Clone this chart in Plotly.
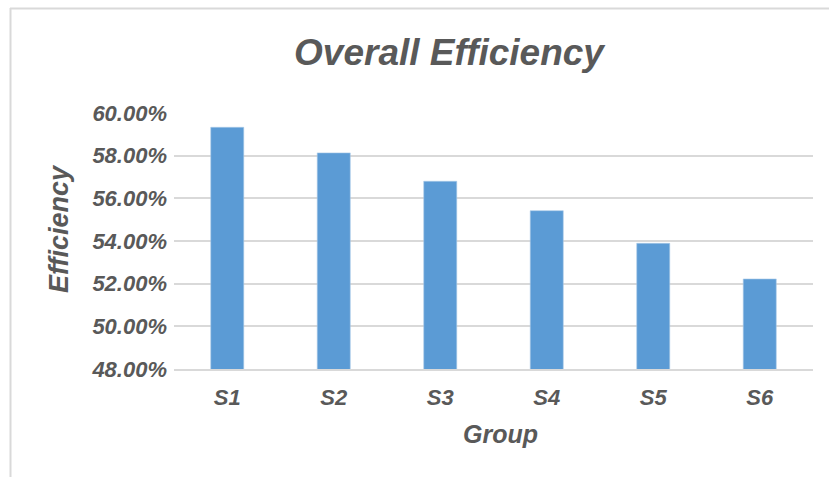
import plotly.graph_objects as go

# Overall efficiency per group
groups = ["S1", "S2", "S3", "S4", "S5", "S6"]
efficiency = [0.5933, 0.5813, 0.5680, 0.5542, 0.5389, 0.5222]

y_ticks = [0.48, 0.50, 0.52, 0.54, 0.56, 0.58, 0.60]

FONT = "Liberation Sans, Arial, sans-serif"
TEXT_COLOR = "#595959"
GRID = "#d9d9d9"

W, H = 829, 477
L, R, T, B = 174, 16, 113, 108

fig = go.Figure(
    go.Bar(
        x=groups,
        y=efficiency,
        marker=dict(color="#5b9bd5", line=dict(color="#a9c9e8", width=0.6)),
        hoverinfo="x+y",
    )
)

def px_to_paper_x(px):
    return (px - L) / (W - L - R)

def px_to_paper_y(py):
    return (H - B - py) / (H - T - B)

fig.update_layout(
    width=W,
    height=H,
    margin=dict(l=L, r=R, t=T, b=B, pad=0),
    paper_bgcolor="white",
    plot_bgcolor="white",
    bargap=0.69,
    showlegend=False,
    font=dict(family=FONT, color=TEXT_COLOR),
    title=dict(
        text="<b><i>Overall Efficiency</i></b>",
        font=dict(size=37, family=FONT, color=TEXT_COLOR),
        x=449 / W,
        xanchor="center",
        xref="container",
        y=1 - 52 / H,
        yanchor="middle",
        yref="container",
    ),
    xaxis=dict(
        type="category",
        showgrid=False,
        showline=True,
        linecolor=GRID,
        linewidth=2,
        ticks="",
        tickfont=dict(size=22, family=FONT, color=TEXT_COLOR),
        ticklabelstandoff=8,
        tickprefix="<b><i>",
        ticksuffix="</i></b>",
    ),
    yaxis=dict(
        range=[0.48, 0.60],
        tickvals=y_ticks,
        ticktext=[f"<b><i>{v*100:.2f}%</i></b>" for v in y_ticks],
        showgrid=True,
        gridcolor=GRID,
        gridwidth=1.5,
        zeroline=False,
        showline=False,
        ticks="",
        tickfont=dict(size=22, family=FONT, color=TEXT_COLOR),
        ticklabelstandoff=6,
    ),
)

# Axis titles
fig.add_annotation(
    text="<b><i>Group</i></b>",
    xref="paper", yref="paper",
    x=px_to_paper_x(500), y=px_to_paper_y(434),
    xanchor="center", yanchor="middle",
    showarrow=False,
    font=dict(size=25, family=FONT, color=TEXT_COLOR),
)
fig.add_annotation(
    text="<b><i>Efficiency</i></b>",
    xref="paper", yref="paper",
    x=px_to_paper_x(59), y=px_to_paper_y(229),
    xanchor="center", yanchor="middle",
    textangle=-90,
    showarrow=False,
    font=dict(size=27, family=FONT, color=TEXT_COLOR),
)

# Chart-area frame: top and left edges
fig.add_shape(
    type="line", xref="paper", yref="paper",
    x0=px_to_paper_x(10), x1=px_to_paper_x(W + 5),
    y0=px_to_paper_y(8.5), y1=px_to_paper_y(8.5),
    line=dict(color=GRID, width=2),
)
fig.add_shape(
    type="line", xref="paper", yref="paper",
    x0=px_to_paper_x(10.5), x1=px_to_paper_x(10.5),
    y0=px_to_paper_y(8), y1=px_to_paper_y(H + 5),
    line=dict(color=GRID, width=2),
)

fig.write_html("out.html")
